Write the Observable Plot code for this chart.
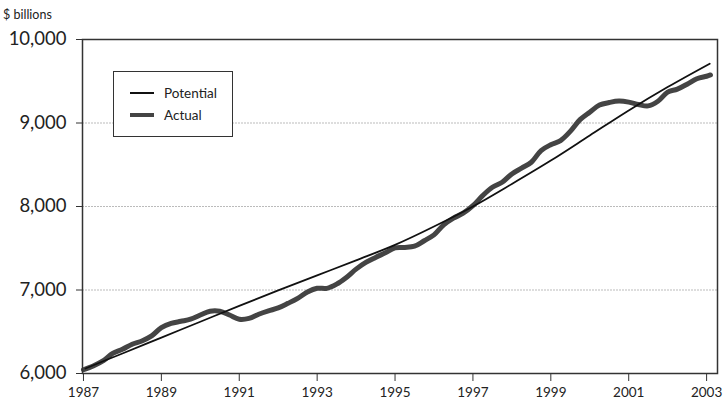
<!DOCTYPE html>
<html>
<head>
<meta charset="utf-8">
<script src="https://cdn.jsdelivr.net/npm/d3@7"></script>
<script src="https://cdn.jsdelivr.net/npm/@observablehq/plot@0.6"></script>
<style>
  html, body { margin: 0; padding: 0; background: #fff; }
  #wrap { position: relative; width: 726px; height: 405px; font-family: "Lato", "Noto Sans", sans-serif; color: #222; }
  #unit { position: absolute; left: 3px; top: 7px; font-size: 12.5px; }
  #legend { position: absolute; left: 113px; top: 71px; width: 118px; height: 64px; border: 1.5px solid #333; background: #fff; font-size: 13.5px; }
  .row { position: absolute; left: 16px; display: flex; align-items: center; }
  .sw { width: 24px; margin-right: 10px; }
</style>
</head>
<body>
<div id="wrap">
  <div id="chart"></div>
  <div id="unit">$ billions</div>
  <div id="legend">
    <div class="row" style="top:13px"><div class="sw" style="border-top:2px solid #111"></div><span>Potential</span></div>
    <div class="row" style="top:35px"><div class="sw" style="border-top:4px solid #444"></div><span>Actual</span></div>
  </div>
</div>
<script>
const actualYears = [
  1987.00,1987.25,1987.50,1987.75,1988.00,1988.25,1988.50,1988.75,
  1989.00,1989.25,1989.50,1989.75,1990.00,1990.25,1990.50,1990.75,
  1991.00,1991.25,1991.50,1991.75,1992.00,1992.25,1992.50,1992.75,
  1993.00,1993.25,1993.50,1993.75,1994.00,1994.25,1994.50,1994.75,
  1995.00,1995.25,1995.50,1995.75,1996.00,1996.25,1996.50,1996.75,
  1997.00,1997.25,1997.50,1997.75,1998.00,1998.25,1998.50,1998.75,
  1999.00,1999.25,1999.50,1999.75,2000.00,2000.25,2000.50,2000.75,
  2001.00,2001.25,2001.50,2001.75,2002.00,2002.25,2002.50,2002.75,
  2003.00,2003.10
];
const actualValues = [
  6045,6090,6150,6240,6290,6350,6390,6450,
  6550,6600,6625,6650,6700,6745,6745,6700,
  6650,6660,6710,6750,6785,6840,6900,6975,
  7020,7020,7070,7150,7250,7330,7390,7445,
  7505,7510,7525,7590,7660,7780,7860,7920,
  8010,8130,8230,8290,8390,8460,8530,8670,
  8740,8790,8900,9040,9130,9215,9245,9262,
  9250,9222,9205,9260,9370,9405,9465,9530,
  9560,9575
];
const potentialYears = [1987.05,1988,1989,1990,1991,1992,1993,1994,1995,1996,1997,1998,1999,2000,2001,2002,2003.08];
const potentialValues = [6060,6240,6430,6620,6810,6995,7175,7355,7540,7760,8000,8270,8550,8850,9150,9430,9710];
const xTicks = [1987,1989,1991,1993,1995,1997,1999,2001,2003];
const yTicks = [6000,7000,8000,9000,10000];
const gridValues = [7000,8000,9000];

const actual = actualYears.map((t, i) => ({t, v: actualValues[i]}));
const potential = potentialYears.map((t, i) => ({t, v: potentialValues[i]}));

const chart = Plot.plot({
  width: 726,
  height: 405,
  marginLeft: 82,
  marginRight: 9,
  marginTop: 39,
  marginBottom: 32,
  style: {fontFamily: "Lato, 'Noto Sans', sans-serif", color: "#222", background: "#fff"},
  x: {domain: [1986.975, 2003.28], label: null},
  y: {domain: [6000, 10000], label: null},
  marks: [
    Plot.ruleY(gridValues, {stroke: "#bbb", strokeWidth: 1, strokeDasharray: "2,1"}),
    Plot.line(actual, {x: "t", y: "v", stroke: "#444", strokeWidth: 5, curve: "catmull-rom"}),
    Plot.line(potential, {x: "t", y: "v", stroke: "#111", strokeWidth: 1.8, curve: "catmull-rom"}),
    Plot.frame({stroke: "#333", strokeWidth: 1.5}),
    Plot.axisX({ticks: xTicks, tickFormat: d => String(d), tickSize: 8, tickPadding: 6, fontSize: 13.5, stroke: "#333", label: null}),
    Plot.axisY({ticks: yTicks, tickFormat: d3.format(","), tickSize: 6, tickPadding: 10, fontSize: 18.5, stroke: "#333", label: null})
  ]
});
document.getElementById("chart").appendChild(chart);
</script>
</body>
</html>
